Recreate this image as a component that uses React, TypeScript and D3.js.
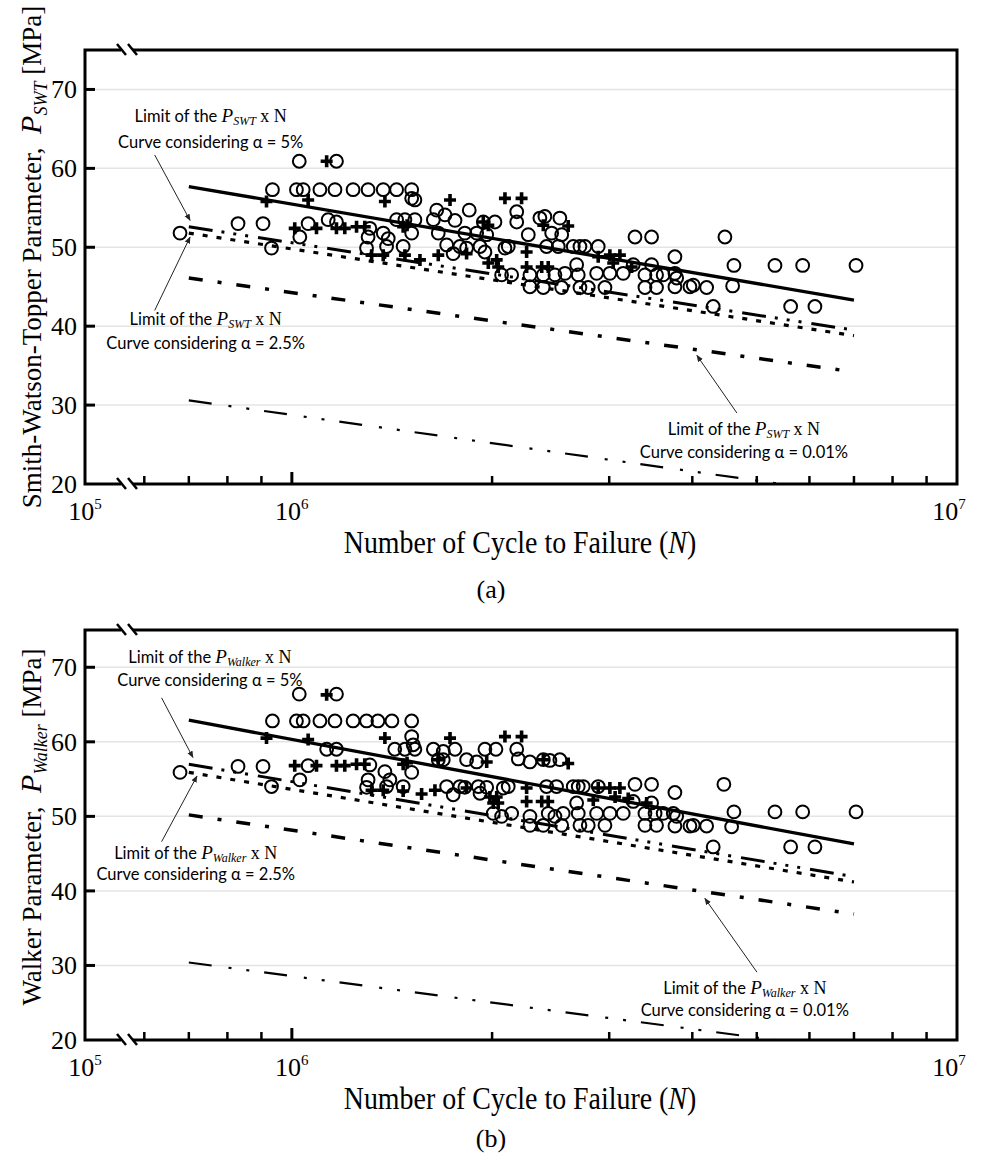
import React, { useEffect, useRef } from 'react';
import * as d3 from 'd3';

// N in millions of cycles, parameter in MPa
const swtCircles: [number, number][] = [
  [0.679, 51.8], [0.830, 53.0], [0.905, 53.0], [0.935, 57.3], [0.932, 49.9],
  [1.026, 60.9], [1.167, 60.9],
  [1.016, 57.3], [1.040, 57.3], [1.102, 57.3], [1.161, 57.3], [1.236, 57.3], [1.302, 57.3], [1.372, 57.3], [1.437, 57.3], [1.514, 57.3],
  [1.514, 56.2], [1.531, 56.0],
  [1.028, 51.3], [1.058, 53.0], [1.134, 53.5], [1.167, 53.2], [1.310, 52.4], [1.302, 51.3], [1.295, 49.9],
  [1.372, 51.8], [1.396, 51.1], [1.388, 50.1], [1.470, 50.1], [1.437, 53.5], [1.479, 53.5], [1.531, 53.5], [1.514, 51.8],
  [1.632, 53.5], [1.651, 54.7], [1.699, 54.1], [1.759, 53.4], [1.848, 54.7], [2.178, 54.5], [2.178, 53.2],
  [1.660, 51.8], [1.709, 50.3], [1.748, 49.2], [1.789, 50.1], [1.820, 51.8], [1.831, 49.9],
  [1.896, 51.8], [1.963, 51.6], [1.918, 50.1], [1.951, 49.4], [1.940, 53.2], [2.020, 53.2],
  [2.067, 46.5], [2.140, 46.5], [2.115, 50.1], [2.091, 49.9],
  [2.280, 46.5], [2.280, 45.0], [2.267, 51.6], [2.360, 53.7], [2.401, 53.9], [2.529, 53.7],
  [2.458, 51.8], [2.545, 51.6], [2.415, 50.1], [2.515, 50.1],
  [2.388, 46.5], [2.486, 46.5], [2.574, 46.7], [2.388, 44.9], [2.545, 44.9],
  [2.649, 50.1], [2.711, 50.1], [2.758, 50.1], [2.680, 47.8], [2.695, 46.5], [2.711, 44.9], [2.790, 44.9],
  [2.888, 50.1], [2.872, 46.7], [3.007, 46.7], [3.149, 46.7], [2.956, 44.9],
  [3.280, 51.3], [3.474, 51.3], [3.260, 47.8], [3.474, 47.8],
  [3.395, 46.5], [3.534, 46.5], [3.616, 46.5], [3.395, 44.9], [3.534, 44.9],
  [3.766, 48.8], [3.766, 46.7], [3.789, 46.1], [3.766, 45.0],
  [3.967, 45.0], [4.013, 45.2], [4.203, 44.9], [4.300, 42.5], [4.478, 51.3],
  [4.620, 47.7], [4.599, 45.1], [5.325, 47.7], [5.861, 47.7], [7.050, 47.7], [5.622, 42.5], [6.115, 42.5],
];

const swtPlus: [number, number][] = [
  [0.916, 55.8], [1.128, 60.9], [1.058, 56.0], [1.380, 55.8],
  [1.010, 52.4], [1.089, 52.4], [1.167, 52.4], [1.201, 52.4], [1.251, 52.6], [1.287, 52.6], [1.470, 52.6], [1.490, 52.8],
  [1.318, 49.0], [1.372, 49.0], [1.479, 49.0], [1.558, 48.4], [1.660, 49.0],
  [1.729, 56.0], [2.091, 56.2], [2.215, 56.2],
  [1.831, 49.2], [1.940, 53.2], [1.974, 52.8],
  [1.974, 48.0], [2.032, 48.4], [2.043, 47.5],
  [2.254, 49.4], [2.254, 47.5], [2.388, 52.8], [2.603, 52.7], [2.375, 47.5], [2.429, 47.5],
  [2.888, 48.8], [3.007, 49.0], [3.113, 49.0], [3.042, 48.0], [3.242, 47.5],
];

const walkerCircles: [number, number][] = [
  [0.679, 55.9], [0.830, 56.7], [0.905, 56.7], [0.935, 62.8], [0.932, 54.0],
  [1.026, 66.4], [1.167, 66.4],
  [1.016, 62.8], [1.040, 62.8], [1.102, 62.8], [1.161, 62.8], [1.236, 62.8], [1.295, 62.8], [1.347, 62.8], [1.414, 62.8], [1.514, 62.8],
  [1.514, 60.7], [1.522, 59.6],
  [1.128, 59.0], [1.167, 59.0], [1.428, 59.0], [1.479, 59.0], [1.531, 59.0], [1.632, 59.0],
  [1.058, 56.8], [1.310, 56.9], [1.302, 54.9], [1.295, 53.9],
  [1.380, 56.0], [1.404, 54.9], [1.388, 54.0], [1.470, 54.0], [1.514, 55.9], [1.028, 54.9],
  [1.689, 58.7], [1.759, 59.0], [1.951, 59.0], [2.027, 59.0], [2.178, 59.0], [2.190, 57.7],
  [1.660, 57.6], [1.689, 57.6], [1.831, 57.6], [1.896, 57.3],
  [2.280, 57.3], [2.388, 57.6], [2.443, 57.5], [2.529, 57.6],
  [1.709, 54.0], [1.748, 52.9], [1.789, 54.0], [1.820, 53.9],
  [1.907, 54.0], [1.963, 53.9], [1.918, 53.1],
  [2.079, 53.8], [2.115, 54.0],
  [2.008, 50.4], [2.067, 50.0], [2.140, 50.4],
  [2.415, 54.0], [2.500, 54.0],
  [2.280, 50.0], [2.280, 48.8],
  [2.429, 50.4], [2.486, 50.0], [2.558, 50.4],
  [2.388, 48.8], [2.545, 48.8],
  [2.649, 54.0], [2.695, 54.0], [2.742, 54.0],
  [2.680, 51.8], [2.695, 50.4], [2.711, 48.8], [2.790, 48.8],
  [2.888, 54.0],
  [2.872, 50.4], [3.007, 50.4], [3.149, 50.4], [2.956, 48.8],
  [3.280, 54.3], [3.474, 54.3], [3.260, 52.0], [3.474, 51.8],
  [3.395, 50.4], [3.516, 50.4], [3.616, 50.4], [3.395, 48.8], [3.534, 48.8],
  [3.766, 53.2], [3.745, 50.4], [3.789, 50.0], [3.766, 48.7],
  [3.967, 48.7], [4.013, 48.8], [4.203, 48.7], [4.300, 45.9], [4.462, 54.3],
  [4.620, 50.6], [4.583, 48.6], [5.325, 50.6], [5.861, 50.6], [7.050, 50.6], [5.622, 45.9], [6.115, 45.9],
];

const walkerPlus: [number, number][] = [
  [0.916, 60.5], [1.128, 66.3], [1.058, 60.3], [1.380, 60.5],
  [1.010, 56.8], [1.089, 56.8], [1.167, 56.8], [1.201, 56.8], [1.251, 57.0], [1.287, 57.0], [1.470, 57.0], [1.490, 57.2],
  [1.318, 53.5], [1.372, 53.5], [1.470, 53.4], [1.567, 53.0], [1.641, 53.5],
  [1.729, 60.5], [2.091, 60.7], [2.215, 60.7],
  [1.660, 57.6], [1.963, 57.3], [2.388, 57.6], [2.603, 57.1],
  [1.831, 53.8], [1.985, 52.6], [2.032, 52.6], [2.008, 51.8], [2.043, 51.8],
  [2.254, 53.8], [2.254, 52.0], [2.375, 52.0], [2.429, 52.0],
  [2.888, 53.8], [3.007, 53.8], [3.113, 53.8], [3.062, 52.6], [2.839, 52.2], [3.204, 52.4], [3.415, 51.8],
];

// curve end points at N = 0.7e6 and 7e6
const curveN = [0.7, 7];
const swtMean = [57.7, 43.3];
const swt5 = [52.6, 39.5];
const swt25 = [51.8, 38.8];
const swt001 = [46.1, 34.2];
const swtLow = [30.6, 18.7];
const walkerMean = [62.9, 46.3];
const walker5 = [57.0, 41.9];
const walker25 = [55.9, 41.2];
const walker001 = [50.2, 36.9];
const walkerLow = [30.4, 18.6];

const yTicks = [30, 40, 50, 60, 70];
const yLabels = [20, 30, 40, 50, 60, 70];
const minorTicks = [0.6, 0.7, 0.8, 0.9, 2, 3, 4, 5, 6, 7, 8, 9];
const decadeLabels = ['5', '6', '7'];

const lineStyles = [
  { w: 3.3, dash: null },
  { w: 3, dash: '24 9 3 9 3 9 3 10' },
  { w: 3.2, dash: '5 9' },
  { w: 3.5, dash: '14 15 4 15' },
  { w: 2.2, dash: '23 17 3 15 3 15' },
];

const L = 85, R = 957;

function drawPanel(svg: any, p: any, id: string) {
  const x = d3.scaleLog().domain([Math.pow(10, 5.689) / 1e6, 10]).range([L, R]);
  const y = d3.scaleLinear().domain([20, 75]).range([p.bottom, p.top]);
  const g = svg.append('g');

  g.append('clipPath').attr('id', id).append('rect')
    .attr('x', L).attr('y', p.top).attr('width', R - L).attr('height', p.bottom - p.top);

  g.selectAll('.grid').data(yTicks).enter().append('line')
    .attr('x1', L).attr('x2', R).attr('y1', (d: number) => y(d)).attr('y2', (d: number) => y(d))
    .attr('stroke', '#e4e4e4').attr('stroke-width', 1.5);

  const line = d3.line<number>().x((d, i) => x(curveN[i])).y(d => y(d));
  const lg = g.append('g').attr('clip-path', `url(#${id})`);
  p.curves.forEach((c: number[], i: number) => {
    const s = lineStyles[i];
    const path = lg.append('path').attr('d', line(c)).attr('fill', 'none')
      .attr('stroke', '#000').attr('stroke-width', s.w);
    if (s.dash) path.attr('stroke-dasharray', s.dash);
  });

  g.selectAll('.circ').data(p.circles).enter().append('circle')
    .attr('cx', (d: number[]) => x(d[0])).attr('cy', (d: number[]) => y(d[1])).attr('r', 6.4)
    .attr('fill', 'none').attr('stroke', '#000').attr('stroke-width', 2);

  g.selectAll('.plus').data(p.pluses).enter().append('path')
    .attr('transform', (d: number[]) => `translate(${x(d[0])},${y(d[1])})`)
    .attr('d', 'M-6,0H6M0,-6V6').attr('stroke', '#000').attr('stroke-width', 3.6);

  // frame
  g.append('rect').attr('x', L).attr('y', p.top).attr('width', R - L).attr('height', p.bottom - p.top)
    .attr('fill', 'none').attr('stroke', '#000').attr('stroke-width', 3);

  g.selectAll('.yt').data(yTicks).enter().append('line')
    .attr('x1', L).attr('x2', L + 10).attr('y1', (d: number) => y(d)).attr('y2', (d: number) => y(d))
    .attr('stroke', '#000').attr('stroke-width', 3);

  g.selectAll('.xt').data(minorTicks).enter().append('line')
    .attr('x1', (d: number) => x(d)).attr('x2', (d: number) => x(d))
    .attr('y1', p.bottom).attr('y2', p.bottom - 8).attr('stroke', '#000').attr('stroke-width', 2.5);
  g.append('line').attr('x1', x(1)).attr('x2', x(1)).attr('y1', p.bottom).attr('y2', p.bottom - 12)
    .attr('stroke', '#000').attr('stroke-width', 3);

  // axis break marks
  [p.top, p.bottom].forEach((yy: number) => {
    g.append('line').attr('x1', 121).attr('x2', 133).attr('y1', yy).attr('y2', yy)
      .attr('stroke', '#fff').attr('stroke-width', 6);
    [117, 128].forEach((bx) => {
      g.append('line').attr('x1', bx).attr('y1', yy - 6).attr('x2', bx + 9).attr('y2', yy + 5)
        .attr('stroke', '#000').attr('stroke-width', 2.5);
    });
  });

  const serif = '"Liberation Serif", "Times New Roman", serif';
  const sans = 'Lato, "Open Sans", sans-serif';

  g.selectAll('.yl').data(yLabels).enter().append('text')
    .attr('x', 77).attr('y', (d: number) => y(d) + 9).attr('text-anchor', 'end')
    .style('font-family', serif).style('font-size', '26px').text((d: number) => d);

  [0, 1, 2].forEach((i) => {
    const tx = i === 0 ? L : i === 1 ? x(1) : R - 8;
    const t = g.append('text').attr('x', tx).attr('y', p.bottom + 36).attr('text-anchor', 'middle')
      .style('font-family', serif).style('font-size', '26px');
    t.append('tspan').text('10');
    t.append('tspan').attr('dy', -11).style('font-size', '15px').text(decadeLabels[i]);
  });

  const xt = g.append('text').attr('transform', `translate(520,${p.bottom + 69}) scale(0.9,1)`)
    .attr('text-anchor', 'middle').style('font-family', serif).style('font-size', '31px');
  xt.append('tspan').text('Number of Cycle to Failure (');
  xt.append('tspan').style('font-style', 'italic').text('N');
  xt.append('tspan').text(')');

  g.append('text').attr('x', 491).attr('y', p.capY).attr('text-anchor', 'middle')
    .style('font-family', serif).style('font-size', '26px').text(p.caption);

  const yt = g.append('text').attr('transform', `translate(41,${p.titleY}) rotate(-90)`)
    .attr('text-anchor', 'middle').style('font-family', serif).style('font-size', '27px');
  yt.append('tspan').text(p.title + '\u00a0\u00a0');
  yt.append('tspan').style('font-style', 'italic').style('font-size', '30px').text('P');
  yt.append('tspan').style('font-style', 'italic').style('font-size', '18px').attr('dy', 6).text(p.sub);
  yt.append('tspan').attr('dy', -6).text(' [MPa]');

  // annotations
  const defs = g.append('defs');
  defs.append('marker').attr('id', id + 'arr').attr('viewBox', '0 0 10 10').attr('refX', 9).attr('refY', 5)
    .attr('markerWidth', 7).attr('markerHeight', 7).attr('orient', 'auto')
    .append('path').attr('d', 'M0,1L10,5L0,9Z').attr('fill', '#222');

  p.notes.forEach((n: any) => {
    const t1 = g.append('text').attr('x', x(n.at[0])).attr('y', y(n.at[1]) + 5).attr('text-anchor', 'middle')
      .style('font-family', sans).style('font-size', '16.5px');
    t1.append('tspan').text('Limit of the ');
    t1.append('tspan').style('font-family', serif).style('font-style', 'italic').style('font-size', '19px').text('P');
    t1.append('tspan').style('font-family', serif).style('font-style', 'italic').style('font-size', '12px').attr('dy', 3).text(p.sub);
    t1.append('tspan').style('font-family', serif).style('font-size', '18px').attr('dy', -3).text(' x N');
    g.append('text').attr('x', x(n.at[0])).attr('y', y(n.at[2]) + 6).attr('text-anchor', 'middle')
      .style('font-family', sans).style('font-size', '16.5px')
      .text(`Curve considering \u03b1 = ${n.alpha}`);
    g.append('line').attr('x1', x(n.from[0])).attr('y1', y(n.from[1]))
      .attr('x2', x(n.to[0])).attr('y2', y(n.to[1]))
      .attr('stroke', '#222').attr('stroke-width', 1).attr('marker-end', `url(#${id}arr)`);
  });
}

const panels = [
  {
    top: 50, bottom: 484, capY: 598, titleY: 257, caption: '(a)',
    title: 'Smith-Watson-Topper Parameter,', sub: 'SWT',
    circles: swtCircles, pluses: swtPlus,
    curves: [swtMean, swt5, swt25, swt001, swtLow],
    notes: [
      { alpha: '5%', at: [0.755, 66.5, 63.3], from: [0.622, 61.7], to: [0.703, 53.4] },
      { alpha: '2.5%', at: [0.742, 40.8, 37.9], from: [0.622, 42.0], to: [0.703, 51.3] },
      { alpha: '0.01%', at: [4.783, 26.8, 24.1], from: [4.667, 29.0], to: [4.064, 36.3] },
    ],
  },
  {
    top: 630, bottom: 1040, capY: 1147, titleY: 827, caption: '(b)',
    title: 'Walker Parameter,', sub: 'Walker',
    circles: walkerCircles, pluses: walkerPlus,
    curves: [walkerMean, walker5, walker25, walker001, walkerLow],
    notes: [
      { alpha: '5%', at: [0.753, 71.2, 68.3], from: [0.637, 65.9], to: [0.710, 57.9] },
      { alpha: '2.5%', at: [0.717, 45.0, 42.3], from: [0.637, 46.6], to: [0.720, 55.4] },
      { alpha: '0.01%', at: [4.797, 26.9, 24.0], from: [5.003, 29.1], to: [4.178, 39.0] },
    ],
  },
];

export default function App() {
  const ref = useRef<SVGSVGElement>(null);
  useEffect(() => {
    const svg = d3.select(ref.current);
    svg.selectAll('*').remove();
    svg.append('rect').attr('width', 983).attr('height', 1155).attr('fill', '#fff');
    panels.forEach((p, i) => drawPanel(svg, p, 'panel' + i));
  }, []);
  return (
    <div style={{ position: 'absolute', left: 0, top: 0 }}>
      <svg ref={ref} width={983} height={1155} />
    </div>
  );
}
